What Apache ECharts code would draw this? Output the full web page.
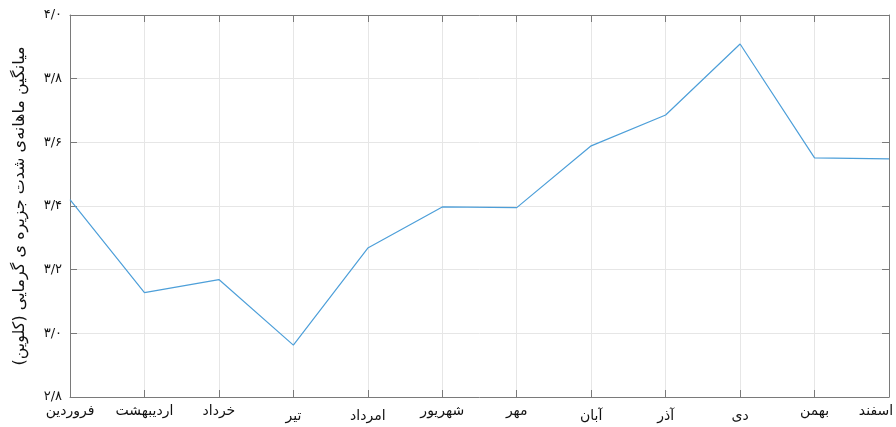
<!DOCTYPE html>
<html><head><meta charset="utf-8">
<script src="https://cdn.jsdelivr.net/npm/echarts@6/dist/echarts.min.js"></script>
<style>html,body{margin:0;padding:0;background:#fff;overflow:hidden}#c{width:896px;height:427px}</style>
</head><body><div id="c"></div>
<script>
const months = ['فروردین','اردیبهشت','خرداد','تیر','امرداد','شهریور','مهر','آبان','آذر','دی','بهمن','اسفند'];
const values = [3.42, 3.128, 3.169, 2.963, 3.268, 3.397, 3.395, 3.589, 3.686, 3.909, 3.551, 3.548];
const lowLabels = ['تیر','امرداد','آبان','آذر','دی'];
const yTitle = 'میانگین ماهانه‌ی شدت جزیره ی گرمایی (کلوین)';
const yMin = 2.8, yMax = 4.0, yStep = 0.2;

const fa = '۰۱۲۳۴۵۶۷۸۹';
function toFa(v){
  return v.toFixed(1).replace('.', '/').replace(/[0-9]/g, d => fa[+d]);
}
const font = '"DejaVu Sans", sans-serif';
const frame = '#7a7a7a';
const chart = echarts.init(document.getElementById('c'));
chart.setOption({
  animation: false,
  grid: {left: 70, right: 7, top: 15, bottom: 30, containLabel: false, outerBoundsMode: 'none'},
  xAxis: [{
    type: 'category', data: months, boundaryGap: false,
    axisLine: {lineStyle: {color: frame, width: 1}},
    axisTick: {inside: true, length: 7, alignWithLabel: true, lineStyle: {color: frame}},
    splitLine: {show: true, lineStyle: {color: '#e6e6e6'}},
    axisLabel: {
      fontFamily: font, fontSize: 14, color: '#111', margin: 7, interval: 0,
      formatter: (v, i) => i === months.length - 1 ? '{last|' + v + '}' : (lowLabels.includes(v) ? '{lo|' + v + '}' : '{hi|' + v + '}'),
      rich: {
        hi: {fontFamily: font, fontSize: 14, color: '#111'},
        lo: {fontFamily: font, fontSize: 14, color: '#111', padding: [5,0,0,0]},
        last: {fontFamily: font, fontSize: 14, color: '#111', padding: [0,26,0,0]}
      }
    }
  },{
    type: 'category', data: months, boundaryGap: false, position: 'top',
    axisLine: {lineStyle: {color: frame, width: 1}},
    axisTick: {inside: true, length: 7, alignWithLabel: true, lineStyle: {color: frame}},
    axisLabel: {show: false}, splitLine: {show: false}
  }],
  yAxis: [{
    type: 'value', min: yMin, max: yMax, interval: yStep,
    name: yTitle, nameLocation: 'middle', nameGap: 42, nameRotate: 90,
    nameTextStyle: {fontFamily: font, fontSize: 16, color: '#111'},
    axisLine: {show: true, lineStyle: {color: frame, width: 1}},
    axisTick: {show: true, inside: true, length: 7, lineStyle: {color: frame}},
    splitLine: {show: true, lineStyle: {color: '#e6e6e6'}},
    axisLabel: {fontFamily: font, fontSize: 13, color: '#111', margin: 8, formatter: toFa}
  },{
    type: 'value', min: yMin, max: yMax, interval: yStep, position: 'right',
    axisLine: {show: true, lineStyle: {color: frame, width: 1}},
    axisTick: {show: true, inside: true, length: 7, lineStyle: {color: frame}},
    axisLabel: {show: false}, splitLine: {show: false}
  }],
  series: [{
    type: 'line', data: values, symbol: 'none',
    lineStyle: {color: '#4d9fd9', width: 1.2}
  }]
});
</script></body></html>
